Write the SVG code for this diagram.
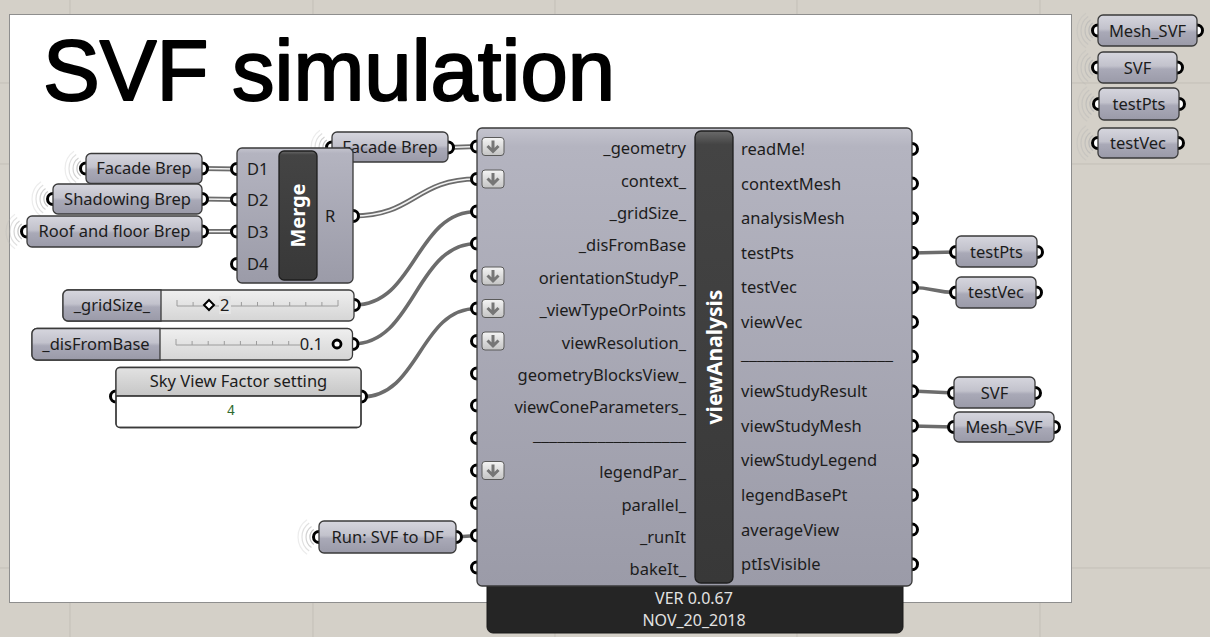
<svg xmlns="http://www.w3.org/2000/svg" xmlns:xlink="http://www.w3.org/1999/xlink" width="1210" height="637" viewBox="0 0 1210 637">
  <style>
    .t { font-family: "Noto Sans", "Open Sans", "DejaVu Sans", sans-serif; font-size: 16.5px; fill: #1c1c1c; }
    .tc { text-anchor: middle; }
    .te { text-anchor: end; }
    .bar { font-family: "Noto Sans", "DejaVu Sans", sans-serif; font-weight: bold; fill: #ffffff; text-anchor: middle; }
    .ver { font-family: "Noto Sans", "DejaVu Sans", sans-serif; font-size: 16px; fill: #e2e2e2; text-anchor: middle; }
    .box { fill: url(#gParam); stroke: #3a3a3a; stroke-width: 1.3; }
    .comp { fill: url(#gComp); stroke: #3a3a3a; stroke-width: 1.3; }
    .grip { fill: #ffffff; stroke: #000000; stroke-width: 3; }
    .ws { fill: none; stroke: #6c6c6c; stroke-width: 3.6; stroke-linecap: round; }
    .wd { fill: none; stroke: #6c6c6c; stroke-width: 5; }
    .wdi { fill: none; stroke: #f2f2f2; stroke-width: 1.5; }
    .grid { stroke: #c3bfb7; stroke-width: 1; }
    .tick { stroke: #9c9c9c; stroke-width: 1; fill: none; }
  </style>
  <defs>
    <linearGradient id="gParam" x1="0" y1="0" x2="0" y2="1">
      <stop offset="0" stop-color="#d6d6de"/>
      <stop offset="0.45" stop-color="#c2c2cc"/>
      <stop offset="0.55" stop-color="#a9a9b7"/>
      <stop offset="1" stop-color="#9a9aa8"/>
    </linearGradient>
    <linearGradient id="gComp" x1="0" y1="0" x2="0" y2="1">
      <stop offset="0" stop-color="#c4c4ce"/>
      <stop offset="0.04" stop-color="#b4b4c0"/>
      <stop offset="1" stop-color="#9b9ba8"/>
    </linearGradient>
    <linearGradient id="gBar" x1="0" y1="0" x2="0" y2="1">
      <stop offset="0" stop-color="#6a6a6a"/>
      <stop offset="0.03" stop-color="#444444"/>
      <stop offset="1" stop-color="#383838"/>
    </linearGradient>
    <linearGradient id="gTrack" x1="0" y1="0" x2="0" y2="1">
      <stop offset="0" stop-color="#efefef"/>
      <stop offset="1" stop-color="#d5d5d5"/>
    </linearGradient>
    <linearGradient id="gHead" x1="0" y1="0" x2="0" y2="1">
      <stop offset="0" stop-color="#e2e2e2"/>
      <stop offset="1" stop-color="#c6c6c6"/>
    </linearGradient>
    <linearGradient id="gBody" x1="0" y1="0" x2="0" y2="1">
      <stop offset="0" stop-color="#f2f2f2"/>
      <stop offset="0.3" stop-color="#ffffff"/>
      <stop offset="1" stop-color="#ffffff"/>
    </linearGradient>
    <linearGradient id="gBtn" x1="0" y1="0" x2="0" y2="1">
      <stop offset="0" stop-color="#f4f4f4"/>
      <stop offset="1" stop-color="#c4c4c4"/>
    </linearGradient>
    <!-- wireless receiver rings -->
    <g id="radio" fill="none" stroke="#b4b4b4" stroke-width="1.2">
      <path d="M-5.2,-7.4 A9,9 0 0 0 -5.2,7.4" stroke-opacity="0.8"/>
      <path d="M-7.5,-10.6 A13,13 0 0 0 -7.5,10.6" stroke-opacity="0.6"/>
      <path d="M-9.8,-13.9 A17,17 0 0 0 -9.8,13.9" stroke-opacity="0.42"/>
      <path d="M-12,-17.2 A21,21 0 0 0 -12,17.2" stroke-opacity="0.25"/>
    </g>
    <!-- flatten toggle button -->
    <g id="flat">
      <rect x="0" y="0" width="22" height="18" rx="3" fill="url(#gBtn)" stroke="#5a5a5a" stroke-width="1"/>
      <path d="M11,3 V13.5 M5.5,8.5 L11,14 L16.5,8.5" fill="none" stroke="#767676" stroke-width="3"/>
    </g>
  </defs>

  <!-- canvas -->
  <rect x="0" y="0" width="1210" height="637" fill="#d4d0c8"/>
  <g id="canvas-grid">
    <line class="grid" x1="70" y1="0" x2="70" y2="637"/>
    <line class="grid" x1="313" y1="0" x2="313" y2="637"/>
    <line class="grid" x1="555" y1="0" x2="555" y2="637"/>
    <line class="grid" x1="797" y1="0" x2="797" y2="637"/>
    <line class="grid" x1="1040" y1="0" x2="1040" y2="637"/>
    <line class="grid" x1="0" y1="83" x2="1210" y2="83"/>
    <line class="grid" x1="0" y1="164" x2="1210" y2="164"/>
    <line class="grid" x1="0" y1="568" x2="1210" y2="568"/>
  </g>

  <!-- white scribble panel -->
  <g id="panel-bg">
    <rect x="9.5" y="14.5" width="1062" height="588" fill="#ffffff" stroke="#8e8e8e" stroke-width="1"/>
    <text x="43" y="100" font-family="Liberation Sans, Arial, sans-serif" font-size="85" fill="#000" stroke="#000" stroke-width="2" stroke-linejoin="round" textLength="572" lengthAdjust="spacingAndGlyphs">SVF simulation</text>
  </g>

  <!-- connectors -->
  <g id="connectors">
    <path class="wd" d="M202,168.5 L237,169"/>
    <path class="wdi" d="M202,168.5 L237,169"/>
    <path class="wd" d="M202,199 L237,199.5"/>
    <path class="wdi" d="M202,199 L237,199.5"/>
    <path class="wd" d="M202,231.5 L237,231.5"/>
    <path class="wdi" d="M202,231.5 L237,231.5"/>
    <path class="wd" d="M448,147.5 L477,146.5"/>
    <path class="wdi" d="M448,147.5 L477,146.5"/>
    <path class="wd" d="M353,216 C415,216 415,179 477,179"/>
    <path class="wdi" d="M353,216 C415,216 415,179 477,179"/>
    <path class="ws" d="M354,305 C416,305 415,211.5 477,211.5"/>
    <path class="ws" d="M352,344 C415,344 415,243.5 477,243.5"/>
    <path class="ws" d="M361,397 C420,397 419,308.5 477,308.5"/>
    <path class="ws" d="M456,537 L477,535.5"/>
    <path class="ws" d="M912,253 L956,252"/>
    <path class="ws" d="M912,287.5 C934,287.5 934,292.5 956,292.5"/>
    <path class="ws" d="M912,391 L954,393"/>
    <path class="ws" d="M912,426 L954,427"/>
  </g>

  <!-- Facade Brep (to merge) -->
  <g id="p-facade-a">
    <use href="#radio" x="86" y="168.5"/>
    <circle class="grip" cx="86" cy="168.5" r="5.5"/>
    <circle class="grip" cx="202" cy="168.5" r="5.5"/>
    <rect class="box" x="86" y="153.5" width="116" height="30" rx="5"/>
    <text class="t tc" x="144" y="174">Facade Brep</text>
  </g>
  <g id="p-shadowing">
    <use href="#radio" x="53" y="199"/>
    <circle class="grip" cx="53" cy="199" r="5.5"/>
    <circle class="grip" cx="202" cy="199" r="5.5"/>
    <rect class="box" x="53" y="184" width="149" height="30" rx="5"/>
    <text class="t tc" x="127.5" y="204.5">Shadowing Brep</text>
  </g>
  <g id="p-roof">
    <use href="#radio" x="27" y="231.5"/>
    <circle class="grip" cx="27" cy="231.5" r="5.5"/>
    <circle class="grip" cx="202" cy="231.5" r="5.5"/>
    <rect class="box" x="27" y="216" width="175" height="31" rx="5"/>
    <text class="t tc" x="114.5" y="237">Roof and floor Brep</text>
  </g>
  <g id="p-facade-b">
    <use href="#radio" x="332" y="147.5"/>
    <circle class="grip" cx="332" cy="147.5" r="5.5"/>
    <circle class="grip" cx="448" cy="147.5" r="5.5"/>
    <rect class="box" x="332" y="132" width="116" height="30" rx="5"/>
    <text class="t tc" x="390" y="153">Facade Brep</text>
  </g>

  <!-- Merge -->
  <g id="merge">
    <circle class="grip" cx="237" cy="169" r="5.5"/>
    <circle class="grip" cx="237" cy="199.5" r="5.5"/>
    <circle class="grip" cx="237" cy="231.5" r="5.5"/>
    <circle class="grip" cx="237" cy="264" r="5.5"/>
    <circle class="grip" cx="353" cy="216" r="5.5"/>
    <rect class="comp" x="237" y="148" width="116" height="135" rx="5"/>
    <rect x="279" y="151" width="38" height="129" rx="5" fill="url(#gBar)" stroke="#1e1e1e" stroke-width="1.3"/>
    <text class="t" x="247" y="175">D1</text>
    <text class="t" x="247" y="205.5">D2</text>
    <text class="t" x="247" y="237.5">D3</text>
    <text class="t" x="247" y="270">D4</text>
    <text class="t" x="325" y="222">R</text>
    <text class="bar" font-size="20" transform="translate(298,215.5) rotate(-90)" y="7">Merge</text>
  </g>

  <!-- sliders -->
  <g id="s-gridsize">
    <circle class="grip" cx="354" cy="305" r="5.5"/>
    <rect x="63" y="290" width="291" height="31" rx="5" fill="url(#gTrack)" stroke="#3a3a3a" stroke-width="1.3"/>
    <path d="M68,290 H161 V321 H68 A5,5 0 0 1 63,316 V295 A5,5 0 0 1 68,290 Z" fill="url(#gParam)" stroke="#3a3a3a" stroke-width="1.3"/>
    <text class="t tc" x="112" y="310.5">_gridSize_</text>
    <path class="tick" d="M177,306 H338 M177,300 V306 M193.1,302 V306 M209.2,302 V306 M225.3,302 V306 M241.4,302 V306 M257.5,302 V306 M273.6,302 V306 M289.7,302 V306 M305.8,302 V306 M321.9,302 V306 M338,300 V306"/>
    <polygon points="209,300 214,305 209,310 204,305" fill="#ffffff" stroke="#000" stroke-width="2"/>
    <rect x="219" y="296" width="12" height="18" fill="#e4e4e4"/>
    <text class="t" x="220" y="311">2</text>
  </g>
  <g id="s-disfrombase">
    <circle class="grip" cx="352.5" cy="344" r="5.5"/>
    <rect x="32" y="328.5" width="320.5" height="31.5" rx="5" fill="url(#gTrack)" stroke="#3a3a3a" stroke-width="1.3"/>
    <path d="M37,328.5 H160 V360 H37 A5,5 0 0 1 32,355 V333.5 A5,5 0 0 1 37,328.5 Z" fill="url(#gParam)" stroke="#3a3a3a" stroke-width="1.3"/>
    <text class="t tc" x="96" y="349.5">_disFromBase</text>
    <path class="tick" d="M176,345 H300 M176,339 V345 M192.1,341 V345 M208.2,341 V345 M224.3,341 V345 M240.4,341 V345 M256.5,341 V345 M272.6,341 V345 M288.7,341 V345"/>
    <text class="t te" x="323" y="350">0.1</text>
    <circle cx="337" cy="344" r="4" fill="#ffffff" stroke="#000" stroke-width="2.8"/>
  </g>

  <!-- value list panel -->
  <g id="panel-svf">
    <circle class="grip" cx="116" cy="396.5" r="5.5"/>
    <circle class="grip" cx="361" cy="396.5" r="5.5"/>
    <rect x="116" y="367.5" width="245" height="60" rx="4" fill="url(#gBody)" stroke="#3a3a3a" stroke-width="1.3"/>
    <path d="M120,367.5 H357 A4,4 0 0 1 361,371.5 V396 H116 V371.5 A4,4 0 0 1 120,367.5 Z" fill="url(#gHead)"/>
    <line x1="116" y1="396" x2="361" y2="396" stroke="#1a1a1a" stroke-width="1.6"/>
    <rect x="116" y="367.5" width="245" height="60" rx="4" fill="none" stroke="#3a3a3a" stroke-width="1.3"/>
    <text class="t tc" x="238.5" y="386.5">Sky View Factor setting</text>
    <text x="231" y="415" font-family="Liberation Mono, Courier New, monospace" font-size="14" fill="#2f6a2f" text-anchor="middle">4</text>
  </g>

  <!-- Run toggle -->
  <g id="p-run">
    <use href="#radio" x="319" y="537"/>
    <circle class="grip" cx="319" cy="537" r="5.5"/>
    <circle class="grip" cx="456" cy="537" r="5.5"/>
    <rect class="box" x="319" y="521" width="137" height="32" rx="5"/>
    <text class="t tc" x="387.5" y="542.5">Run: SVF to DF</text>
  </g>

  <!-- viewAnalysis component -->
  <g id="viewAnalysis">
    <path d="M487,570 H903 V627 A6,6 0 0 1 897,633 H493 A6,6 0 0 1 487,627 Z" fill="#252525" stroke="#1a1a1a" stroke-width="1"/>
    <text class="ver" x="694" y="604">VER 0.0.67</text>
    <text class="ver" x="694" y="626">NOV_20_2018</text>
    <g>
      <circle class="grip" cx="477" cy="146.5" r="5.5"/>
      <circle class="grip" cx="477" cy="179" r="5.5"/>
      <circle class="grip" cx="477" cy="211.5" r="5.5"/>
      <circle class="grip" cx="477" cy="243.5" r="5.5"/>
      <circle class="grip" cx="477" cy="276" r="5.5"/>
      <circle class="grip" cx="477" cy="308.5" r="5.5"/>
      <circle class="grip" cx="477" cy="341" r="5.5"/>
      <circle class="grip" cx="477" cy="373.5" r="5.5"/>
      <circle class="grip" cx="477" cy="405.5" r="5.5"/>
      <circle class="grip" cx="477" cy="438" r="5.5"/>
      <circle class="grip" cx="477" cy="470.5" r="5.5"/>
      <circle class="grip" cx="477" cy="503" r="5.5"/>
      <circle class="grip" cx="477" cy="535.5" r="5.5"/>
      <circle class="grip" cx="477" cy="567.5" r="5.5"/>
      <circle class="grip" cx="912" cy="149" r="5.5"/>
      <circle class="grip" cx="912" cy="183.6" r="5.5"/>
      <circle class="grip" cx="912" cy="218.2" r="5.5"/>
      <circle class="grip" cx="912" cy="252.8" r="5.5"/>
      <circle class="grip" cx="912" cy="287.4" r="5.5"/>
      <circle class="grip" cx="912" cy="322" r="5.5"/>
      <circle class="grip" cx="912" cy="356.6" r="5.5"/>
      <circle class="grip" cx="912" cy="391.2" r="5.5"/>
      <circle class="grip" cx="912" cy="425.8" r="5.5"/>
      <circle class="grip" cx="912" cy="460.4" r="5.5"/>
      <circle class="grip" cx="912" cy="495" r="5.5"/>
      <circle class="grip" cx="912" cy="529.6" r="5.5"/>
      <circle class="grip" cx="912" cy="564.2" r="5.5"/>
    </g>
    <rect class="comp" x="477" y="128" width="435" height="458" rx="5"/>
    <rect x="695" y="131" width="38" height="452" rx="6" fill="url(#gBar)" stroke="#1e1e1e" stroke-width="1.3"/>
    <text class="bar" font-size="21" transform="translate(714,357) rotate(-90)" y="7.5">viewAnalysis</text>
    <use href="#flat" x="482" y="137.5"/>
    <use href="#flat" x="482" y="170"/>
    <use href="#flat" x="482" y="267"/>
    <use href="#flat" x="482" y="299.5"/>
    <use href="#flat" x="482" y="332"/>
    <use href="#flat" x="482" y="461.5"/>
    <text class="t te" x="686" y="154">_geometry</text>
    <text class="t te" x="686" y="186.5">context_</text>
    <text class="t te" x="686" y="219">_gridSize_</text>
    <text class="t te" x="686" y="251">_disFromBase</text>
    <text class="t te" x="686" y="283.5">orientationStudyP_</text>
    <text class="t te" x="686" y="316">_viewTypeOrPoints</text>
    <text class="t te" x="686" y="348.5">viewResolution_</text>
    <text class="t te" x="686" y="381">geometryBlocksView_</text>
    <text class="t te" x="686" y="413">viewConeParameters_</text>
    <text class="t te" x="686" y="441" textLength="153" lengthAdjust="spacingAndGlyphs">___________________</text>
    <text class="t te" x="686" y="478">legendPar_</text>
    <text class="t te" x="686" y="510.5">parallel_</text>
    <text class="t te" x="686" y="543">_runIt</text>
    <text class="t te" x="686" y="575">bakeIt_</text>
    <text class="t" x="741" y="155">readMe!</text>
    <text class="t" x="741" y="189.6">contextMesh</text>
    <text class="t" x="741" y="224.2">analysisMesh</text>
    <text class="t" x="741" y="258.8">testPts</text>
    <text class="t" x="741" y="293.4">testVec</text>
    <text class="t" x="741" y="328">viewVec</text>
    <text class="t" x="741" y="360" textLength="152" lengthAdjust="spacingAndGlyphs">___________________</text>
    <text class="t" x="741" y="397.2">viewStudyResult</text>
    <text class="t" x="741" y="431.8">viewStudyMesh</text>
    <text class="t" x="741" y="466.4">viewStudyLegend</text>
    <text class="t" x="741" y="501">legendBasePt</text>
    <text class="t" x="741" y="535.6">averageView</text>
    <text class="t" x="741" y="570.2">ptIsVisible</text>
  </g>

  <!-- output parameters -->
  <g id="p-testpts">
    <circle class="grip" cx="956" cy="252" r="5.5"/>
    <circle class="grip" cx="1037" cy="252" r="5.5"/>
    <rect class="box" x="956" y="236" width="81" height="31" rx="5"/>
    <text class="t tc" x="996.5" y="257.5">testPts</text>
  </g>
  <g id="p-testvec">
    <circle class="grip" cx="956" cy="292.5" r="5.5"/>
    <circle class="grip" cx="1036" cy="292.5" r="5.5"/>
    <rect class="box" x="956" y="277" width="80" height="31" rx="5"/>
    <text class="t tc" x="996" y="298">testVec</text>
  </g>
  <g id="p-svf">
    <circle class="grip" cx="954" cy="393" r="5.5"/>
    <circle class="grip" cx="1035" cy="393" r="5.5"/>
    <rect class="box" x="954" y="377" width="81" height="31" rx="5"/>
    <text class="t tc" x="994.5" y="398.5">SVF</text>
  </g>
  <g id="p-meshsvf">
    <circle class="grip" cx="954" cy="427" r="5.5"/>
    <circle class="grip" cx="1054" cy="427" r="5.5"/>
    <rect class="box" x="954" y="412" width="100" height="30" rx="5"/>
    <text class="t tc" x="1004" y="432.5">Mesh_SVF</text>
  </g>

  <!-- wireless receivers on the canvas -->
  <g id="r-meshsvf">
    <use href="#radio" x="1098" y="30.5"/>
    <circle class="grip" cx="1098" cy="30.5" r="5.5"/>
    <circle class="grip" cx="1197" cy="30.5" r="5.5"/>
    <rect class="box" x="1098" y="15" width="99" height="31" rx="5"/>
    <text class="t tc" x="1147.5" y="36.5">Mesh_SVF</text>
  </g>
  <g id="r-svf">
    <use href="#radio" x="1098" y="67.5"/>
    <circle class="grip" cx="1098" cy="67.5" r="5.5"/>
    <circle class="grip" cx="1177" cy="67.5" r="5.5"/>
    <rect class="box" x="1098" y="52" width="79" height="31" rx="5"/>
    <text class="t tc" x="1137.5" y="73.5">SVF</text>
  </g>
  <g id="r-testpts">
    <use href="#radio" x="1099" y="104"/>
    <circle class="grip" cx="1099" cy="104" r="5.5"/>
    <circle class="grip" cx="1179" cy="104" r="5.5"/>
    <rect class="box" x="1099" y="88" width="80" height="32" rx="5"/>
    <text class="t tc" x="1139" y="109.5">testPts</text>
  </g>
  <g id="r-testvec">
    <use href="#radio" x="1098" y="143"/>
    <circle class="grip" cx="1098" cy="143" r="5.5"/>
    <circle class="grip" cx="1178" cy="143" r="5.5"/>
    <rect class="box" x="1098" y="128" width="80" height="30" rx="5"/>
    <text class="t tc" x="1138" y="148.5">testVec</text>
  </g>
</svg>
